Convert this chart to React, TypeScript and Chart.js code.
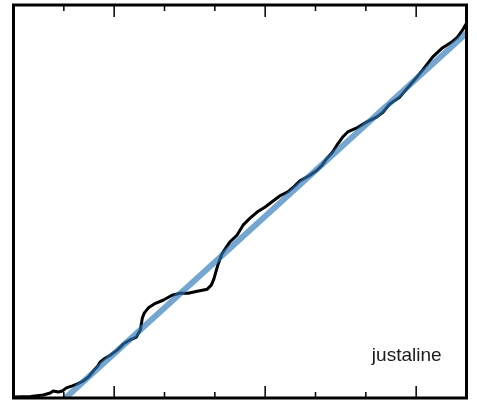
import React, { useEffect, useRef } from "react";
import { Chart, registerables } from "chart.js";

Chart.register(...registerables);

// Observed curve (black)
const curveX = [
  -2.0, -1.66, -1.41, -1.27, -1.21, -1.11, -1.03, -0.95, -0.83, -0.73, -0.61, -0.51, -0.41, -0.33,
  -0.28, -0.18, -0.08, 0.06, 0.18, 0.31, 0.44, 0.52, 0.56, 0.6, 0.68, 0.82, 0.97, 1.15, 1.31, 1.47,
  1.65, 1.85, 1.93, 1.98, 2.06, 2.14, 2.3, 2.44, 2.56, 2.7, 2.84, 3.0, 3.13, 3.29, 3.45, 3.59, 3.69,
  3.89, 4.03, 4.13, 4.23, 4.34, 4.44, 4.54, 4.64, 4.82, 5.02, 5.22, 5.34, 5.47, 5.67, 5.93, 6.13,
  6.33, 6.51, 6.7, 6.82, 6.92, 7.0,
];
const curveY = [
  0.02, 0.03, 0.06, 0.1, 0.14, 0.12, 0.14, 0.2, 0.24, 0.28, 0.34, 0.42, 0.54, 0.63, 0.71, 0.79, 0.85,
  0.95, 1.07, 1.15, 1.21, 1.35, 1.59, 1.69, 1.79, 1.88, 1.94, 2.04, 2.08, 2.08, 2.12, 2.16, 2.24,
  2.36, 2.64, 2.86, 3.1, 3.23, 3.43, 3.57, 3.69, 3.79, 3.89, 4.01, 4.09, 4.21, 4.31, 4.42, 4.52,
  4.62, 4.76, 4.88, 5.04, 5.18, 5.28, 5.36, 5.48, 5.58, 5.67, 5.83, 5.97, 6.27, 6.51, 6.77, 6.94,
  7.06, 7.16, 7.3, 7.44,
];

// Fitted straight line (blue)
const lineX = [-1.2, 7.0];
const lineY = [-0.21, 7.24];

// Axis ticks
const minorTicks = [-1, 1, 2, 4, 5];
const majorTicks = [0, 3, 6];
const xMin = -2;
const xMax = 7;
const yMin = 0;
const yMax = 7.8;

const labelText = "justaline";

const framePlugin = {
  id: "framePlugin",
  afterDraw(chart: any) {
    const { ctx, chartArea } = chart;
    const xs = chart.scales.x;
    const ys = chart.scales.y;
    ctx.save();
    ctx.strokeStyle = "#000";
    ctx.lineWidth = 1.5;
    const drawTick = (v: number, len: number) => {
      const px = xs.getPixelForValue(v);
      ctx.beginPath();
      ctx.moveTo(px, chartArea.bottom);
      ctx.lineTo(px, chartArea.bottom - len);
      ctx.moveTo(px, chartArea.top);
      ctx.lineTo(px, chartArea.top + len);
      ctx.stroke();
    };
    minorTicks.forEach((v) => drawTick(v, 6));
    majorTicks.forEach((v) => drawTick(v, 12));
    ctx.lineWidth = 3;
    ctx.strokeRect(
      chartArea.left,
      chartArea.top,
      chartArea.right - chartArea.left,
      chartArea.bottom - chartArea.top
    );
    ctx.fillStyle = "#1a1a1a";
    ctx.font = '19px "Liberation Sans", Arial, sans-serif';
    ctx.textAlign = "left";
    ctx.textBaseline = "alphabetic";
    ctx.fillText(labelText, xs.getPixelForValue(5.12), ys.getPixelForValue(0.73));
    ctx.restore();
  },
};

export default function App() {
  const ref = useRef<HTMLCanvasElement | null>(null);
  useEffect(() => {
    if (!ref.current) return;
    const chart = new Chart(ref.current, {
      type: "line",
      data: {
        datasets: [
          {
            label: "line",
            data: lineX.map((x, i) => ({ x, y: lineY[i] })),
            borderColor: "rgba(40,120,185,0.65)",
            borderWidth: 6,
            pointRadius: 0,
            tension: 0,
            order: 0,
            borderCapStyle: "butt",
          },
          {
            label: "curve",
            data: curveX.map((x, i) => ({ x, y: curveY[i] })),
            borderColor: "#000",
            borderWidth: 3,
            pointRadius: 0,
            tension: 0,
            order: 1,
            borderJoinStyle: "round",
          },
        ],
      },
      options: {
        animation: false,
        responsive: false,
        maintainAspectRatio: false,
        layout: { padding: { left: 13.5, right: 10.5, top: 5, bottom: 3 } },
        plugins: { legend: { display: false }, tooltip: { enabled: false } },
        scales: {
          x: { type: "linear", min: xMin, max: xMax, display: false },
          y: { type: "linear", min: yMin, max: yMax, display: false },
        },
      },
      plugins: [framePlugin],
    });
    return () => chart.destroy();
  }, []);
  return (
    <div style={{ position: "fixed", left: 0, top: 0, width: 477, height: 401, background: "#fff" }}>
      <canvas ref={ref} width={477} height={401} style={{ width: 477, height: 401 }} />
    </div>
  );
}
